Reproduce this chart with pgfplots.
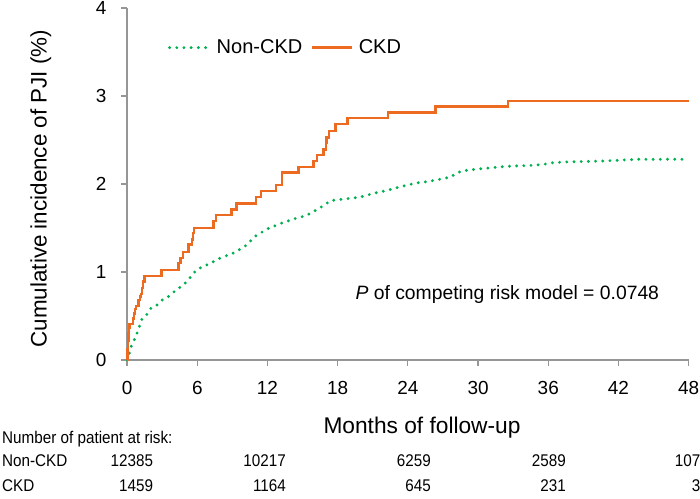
\documentclass[border=0pt]{standalone}
\usepackage{fontspec}
\setmainfont{Liberation Sans}
\newfontfamily\narrowfont[FakeStretch=0.9]{Liberation Sans}
\usepackage{pgfplots}
\pgfplotsset{compat=1.18}
\definecolor{ckdorange}{RGB}{237,107,33}
\definecolor{noncgreen}{RGB}{0,176,80}
\definecolor{axisgray}{RGB}{150,150,150}
\begin{document}
\begin{tikzpicture}[x=1bp,y=1bp]
\useasboundingbox (0,0) rectangle (700,499);
\begin{axis}[
  at={(108.6,158)}, anchor=origin,
  scale only axis, width=561.6bp, height=352bp,
  xmin=0, xmax=48, ymin=0, ymax=4,
  xtick={0,6,...,48}, ytick={0,1,2,3,4},
  axis lines=left,
  axis line style={-, draw=axisgray, line width=1.2bp},
  tick style={draw=axisgray, line width=1.2bp},
  tick align=outside, major tick length=6bp,
  clip=false,
  /pgf/number format/assume math mode=true,
  ticklabel style={font=\fontsize{19}{22}\selectfont},
  xticklabel style={inner sep=0pt, yshift=-15bp},
  yticklabel style={inner sep=0pt, xshift=-14.4bp},
  legend style={at={(axis cs:3.48,3.549)}, anchor=west, draw=none, fill=none,
    inner sep=0pt, font=\fontsize{20.1}{22}\selectfont, nodes={inner sep=0pt},
    /tikz/every odd column/.style={column sep=5.5bp},
    /tikz/every even column/.style={column sep=8.5bp}},
  legend columns=2,
  legend image code/.code={\draw[#1] (0bp,0bp) -- (40bp,0bp);},
]
\addplot[noncgreen, line width=3.2bp, line cap=round, dash pattern=on 0pt off 7.2bp] coordinates {
(0,0) (0.2,0.076) (0.37,0.16) (0.64,0.235) (0.87,0.31) (1.08,0.39) (1.28,0.47)
(1.71,0.52) (2.05,0.59) (2.56,0.625) (2.99,0.68) (3.5,0.716) (3.93,0.765)
(4.36,0.81) (4.79,0.85) (5.21,0.905) (5.56,0.966) (5.98,1.03) (7.0,1.09)
(8.0,1.16) (9.2,1.22) (10.15,1.30) (11.0,1.41) (12.0,1.49) (13.1,1.55)
(14.2,1.60) (15.3,1.64) (16.4,1.72) (17.4,1.81) (18.6,1.83) (19.9,1.85)
(21.0,1.89) (22.3,1.93) (23.4,1.97) (24.7,2.01) (25.8,2.03) (27.0,2.06)
(27.7,2.08) (28.1,2.12) (28.7,2.15) (30.0,2.17) (32.4,2.20) (34.4,2.21)
(35.5,2.22) (36.3,2.24) (37.4,2.25) (40.5,2.26) (43.7,2.28) (47.7,2.28)
};
\addlegendentry{Non-CKD}
\addplot[ckdorange, line width=2.4bp, const plot] coordinates {
(0,0) (0.03,0.12) (0.08,0.22) (0.13,0.30) (0.18,0.36) (0.22,0.41)
(0.51,0.47) (0.6,0.53) (0.68,0.58) (0.77,0.61) (0.99,0.68) (1.1,0.72)
(1.2,0.75) (1.3,0.82) (1.38,0.89) (1.48,0.955) (2.95,1.02) (4.41,1.10)
(4.56,1.16) (4.79,1.23) (5.25,1.31) (5.55,1.37) (5.65,1.44) (5.72,1.50)
(7.38,1.58) (7.62,1.65) (8.92,1.71) (9.35,1.78) (11.0,1.85) (11.45,1.92)
(12.72,1.985) (13.25,2.13) (14.65,2.19) (15.95,2.26) (16.25,2.33)
(16.8,2.39) (17.0,2.47) (17.05,2.53) (17.25,2.60) (17.8,2.68) (18.85,2.75)
(22.3,2.81) (26.35,2.88) (32.55,2.94) (48,2.94)
};
\addlegendentry{CKD}
\node[anchor=base west, inner sep=0pt, font=\fontsize{19.4}{22}\selectfont]
  at (axis cs:19.51,0.69) {\textit{P} of competing risk model = 0.0748};
\end{axis}
\node[rotate=90, anchor=base, inner sep=0pt, font=\fontsize{22.5}{26}\selectfont]
  at (46.5,310.5) {Cumulative incidence of PJI (\%)};
\node[anchor=base, inner sep=0pt, font=\fontsize{22.8}{26}\selectfont]
  at (422,65) {Months of follow-up};
\begin{scope}[every node/.style={inner sep=0pt, font=\narrowfont\fontsize{17}{20}\selectfont}]
\node[anchor=base west] at (2,55) {Number of patient at risk:};
\node[anchor=base west] at (2,32.3) {Non-CKD};
\node[anchor=base west] at (2,7.5) {CKD};
\node[anchor=base east] at (153.3,32.3) {12385};
\node[anchor=base east] at (286,32.3) {10217};
\node[anchor=base east] at (431,32.3) {6259};
\node[anchor=base east] at (566,32.3) {2589};
\node[anchor=base east] at (700.5,32.3) {107};
\node[anchor=base east] at (153.3,7.5) {1459};
\node[anchor=base east] at (286,7.5) {1164};
\node[anchor=base east] at (431,7.5) {645};
\node[anchor=base east] at (566,7.5) {231};
\node[anchor=base east] at (700.5,7.5) {3};
\end{scope}
\end{tikzpicture}
\end{document}
